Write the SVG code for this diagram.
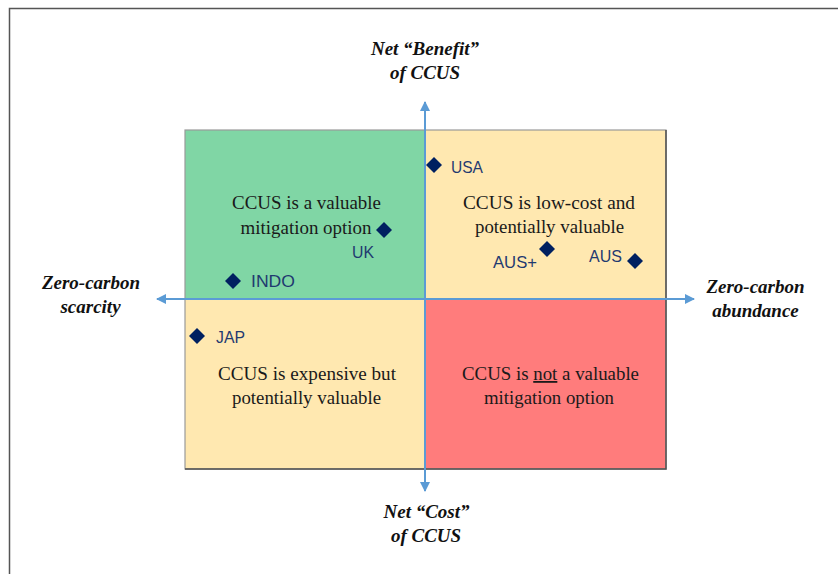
<svg xmlns="http://www.w3.org/2000/svg" width="838" height="574" viewBox="0 0 838 574">
<defs>
<style>
.q{stroke:#9a9a9a;stroke-width:1.2}
.qt{font-family:"Liberation Serif","Times New Roman",serif;font-size:18px;fill:#1a1a1a;text-anchor:middle}
.ax{font-family:"Liberation Serif","Times New Roman",serif;font-size:19px;font-weight:bold;font-style:italic;fill:#111;text-anchor:middle}
.lb{font-family:"Liberation Sans",Arial,sans-serif;font-size:17px;fill:#1f3a70}
.dm{fill:#002060}
.axis{stroke:#5b9bd5;stroke-width:2;fill:none}
.sh{stroke:#505050;stroke-width:1.5;fill:none}
</style>
<marker id="ah" viewBox="0 0 10 10" refX="9" refY="5" markerWidth="5" markerHeight="5" orient="auto-start-reverse" markerUnits="strokeWidth">
<path d="M0,0 L10,5 L0,10 z" fill="#5b9bd5"/>
</marker>
<path id="d" d="M0,-8 L8,0 L0,8 L-8,0 z"/>
</defs>
<rect x="0" y="0" width="838" height="574" fill="#fff"/>
<path d="M9.5,574 V8.5 H838" fill="none" stroke="#555" stroke-width="1.5"/>
<g id="q-green"><rect class="q" x="185" y="130" width="240" height="169" fill="#80d6a5"/>
<text class="qt" x="306.5" y="209" textLength="149" lengthAdjust="spacingAndGlyphs">CCUS is a valuable</text><text class="qt" x="306" y="234" textLength="131" lengthAdjust="spacingAndGlyphs">mitigation  option</text></g>
<g id="q-topright"><rect class="q" x="425" y="130" width="241" height="169" fill="#ffe8b0"/>
<text class="qt" x="549" y="209" textLength="172" lengthAdjust="spacingAndGlyphs">CCUS is low-cost  and</text><text class="qt" x="549.5" y="233" textLength="149" lengthAdjust="spacingAndGlyphs">potentially  valuable</text></g>
<g id="q-bottomleft"><rect class="q" x="185" y="299" width="240" height="170" fill="#ffe8b0"/>
<text class="qt" x="307" y="380" textLength="178" lengthAdjust="spacingAndGlyphs">CCUS is expensive  but</text><text class="qt" x="306.5" y="404" textLength="149" lengthAdjust="spacingAndGlyphs">potentially  valuable</text></g>
<g id="q-red"><rect class="q" x="425" y="299" width="241" height="170" fill="#ff7c7c"/>
<text class="qt" x="550.5" y="380" textLength="177" lengthAdjust="spacingAndGlyphs">CCUS is <tspan text-decoration="underline">not</tspan>  a valuable</text><text class="qt" x="549" y="404" textLength="130" lengthAdjust="spacingAndGlyphs">mitigation   option</text></g>
<path class="sh" d="M185,469 H666 V130"/>
<g id="connectors">
<line class="axis" x1="425" y1="491" x2="425" y2="102" marker-end="url(#ah)" marker-start="url(#ah)"/>
<line class="axis" x1="157" y1="299" x2="694" y2="299" marker-end="url(#ah)" marker-start="url(#ah)"/>
</g>
<g id="axis-top"><text class="ax" x="425" y="55">Net “Benefit”</text><text class="ax" x="425" y="79">of CCUS</text></g>
<g id="axis-left"><text class="ax" x="91" y="289">Zero-carbon</text><text class="ax" x="90.5" y="313">scarcity</text></g>
<g id="axis-right"><text class="ax" x="755.5" y="293">Zero-carbon</text><text class="ax" x="755.5" y="317">abundance</text></g>
<g id="axis-bottom"><text class="ax" x="426.5" y="518">Net “Cost”</text><text class="ax" x="426" y="542">of CCUS</text></g>
<g id="pt-usa"><use href="#d" class="dm" x="434" y="165"/><text class="lb" x="451" y="173" textLength="32" lengthAdjust="spacingAndGlyphs">USA</text></g>
<g id="pt-uk"><use href="#d" class="dm" x="384" y="230"/><text class="lb" x="352" y="258" textLength="22" lengthAdjust="spacingAndGlyphs">UK</text></g>
<g id="pt-indo"><use href="#d" class="dm" x="233" y="281"/><text class="lb" x="251" y="287" textLength="44" lengthAdjust="spacingAndGlyphs">INDO</text></g>
<g id="pt-ausplus"><use href="#d" class="dm" x="547" y="249"/><text class="lb" x="493" y="268" textLength="44" lengthAdjust="spacingAndGlyphs">AUS+</text></g>
<g id="pt-aus"><use href="#d" class="dm" x="635" y="261"/><text class="lb" x="589" y="262" textLength="33" lengthAdjust="spacingAndGlyphs">AUS</text></g>
<g id="pt-jap"><use href="#d" class="dm" x="197" y="336"/><text class="lb" x="216" y="343" textLength="29" lengthAdjust="spacingAndGlyphs">JAP</text></g>
</svg>
